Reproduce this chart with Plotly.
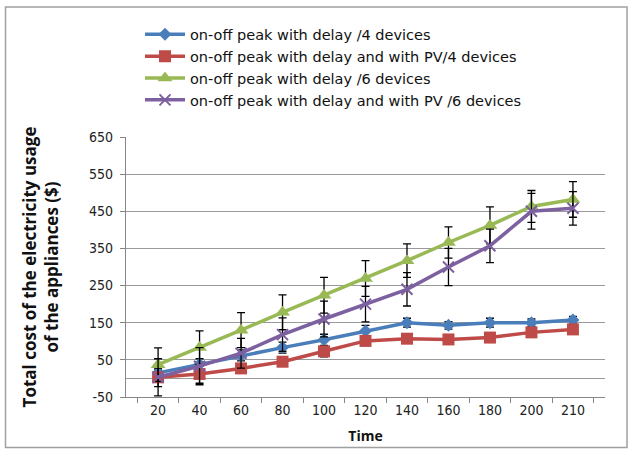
import plotly.graph_objects as go

times = ["20", "40", "60", "80", "100", "120", "140", "160", "180", "200", "210"]

blue_vals = [15, 38, 62, 83, 104, 128, 150, 143, 150, 150, 157]
red_vals = [3, 12, 27, 45, 73, 101, 107, 105, 110, 124, 132]
green_vals = [37, 83, 130, 178, 224, 269, 317, 366, 412, 463, 482]
purple_vals = [3, 33, 68, 118, 160, 200, 240, 300, 357, 450, 458]

blue_err = [10, 15, 15, 15, 15, 15, 12, 10, 12, 10, 10]
red_err = [25, 25, 10, 10, 15, 10, 10, 10, 10, 10, 10]
green_err = [45, 45, 47, 47, 48, 48, 45, 42, 50, 43, 48]
purple_err = [50, 50, 40, 45, 48, 48, 45, 50, 45, 48, 45]

y_ticks = [-50, 50, 150, 250, 350, 450, 550, 650]
y_tick_text = ["-50", "50", "150", "250", "350", "450", "550", "650"]

names = [
    "on-off peak with delay /4 devices",
    "on-off peak with delay and with PV/4 devices",
    "on-off peak with delay /6 devices",
    "on-off peak with delay and with PV /6 devices",
]
colors = ["#4A7EBB", "#BE4B48", "#98B954", "#7D60A0"]
symbols = ["diamond", "square", "triangle-up", "x-thin"]
sizes = [10, 12, 13, 11]
series = [blue_vals, red_vals, green_vals, purple_vals]
errors = [blue_err, red_err, green_err, purple_err]

fig = go.Figure()
for name, col, sym, sz, vals, err in zip(names, colors, symbols, sizes, series, errors):
    fig.add_trace(go.Scatter(
        x=times, y=vals, name=name, mode="lines+markers",
        line=dict(color=col, width=3.5),
        marker=dict(symbol=sym, size=sz, color=col,
                    line=dict(color=col, width=2 if sym == "x-thin" else 0)),
        error_y=dict(type="data", array=err, visible=True, color="black",
                     thickness=1.3, width=4),
    ))

L, R, T, B = 126, 25, 137, 54
pw = 630 - L - R
ph = 454 - T - B

def px2x(px):
    return (px - L) / pw

def px2y(py):
    return (454 - B - py) / ph

fig.add_shape(type="rect", xref="paper", yref="paper",
              x0=px2x(5.5), x1=px2x(627), y0=px2y(451), y1=px2y(5.5),
              line=dict(color="#A0A0A0", width=1.5), layer="below")

tickfont = dict(family="DejaVu Sans Condensed, DejaVu Sans", size=14, color="#222")

fig.update_layout(
    width=630, height=454,
    margin=dict(l=L, r=R, t=T, b=B),
    paper_bgcolor="white", plot_bgcolor="white",
    font=dict(family="Open Sans, DejaVu Sans, sans-serif", size=13, color="#222"),
    showlegend=True,
    legend=dict(x=px2x(140), y=px2y(17), xanchor="left", yanchor="top",
                font=dict(family="DejaVu Sans", size=14.5, color="#111"),
                tracegroupgap=0, itemwidth=40, bgcolor="rgba(0,0,0,0)"),
    xaxis=dict(type="category", showgrid=False, showline=True, linecolor="#868686",
               linewidth=1.2, ticks="outside", tickson="boundaries", ticklen=5,
               tickcolor="#868686", tickfont=tickfont,
               title=dict(text="<b>Time</b>", standoff=14,
                          font=dict(family="Open Sans, DejaVu Sans", size=14, color="#111"))),
    yaxis=dict(range=[-50, 650], tickmode="array",
               tickvals=y_ticks, ticktext=y_tick_text,
               showgrid=True, gridcolor="#9A9A9A", gridwidth=1,
               zeroline=True, zerolinecolor="#9A9A9A", zerolinewidth=1,
               showline=True, linecolor="#868686", linewidth=1.2,
               ticks="outside", ticklen=5, tickcolor="#868686", tickfont=tickfont,
               ticklabelstandoff=4,
               title=dict(text="<b>Total cost of the electricity usage<br>of the appliances ($)</b>",
                          standoff=26,
                          font=dict(family="Open Sans, DejaVu Sans", size=17, color="#111"))),
)

fig.write_html("out.html")
